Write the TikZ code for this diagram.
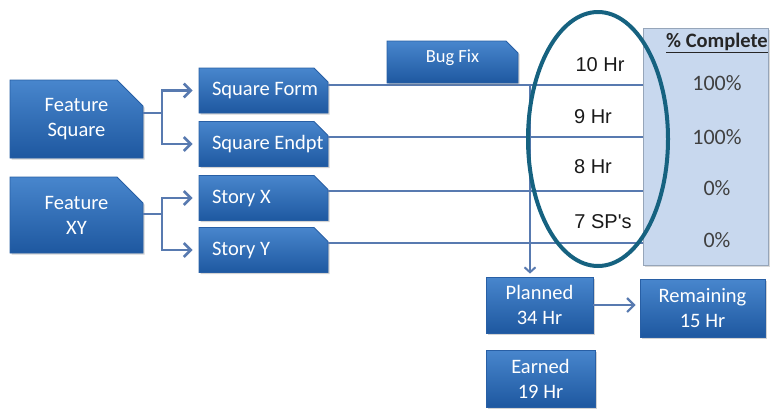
\documentclass[tikz,border=0pt]{standalone}
\usepackage{fontspec}
\setmainfont{Carlito}
\newfontfamily\arialf{Liberation Sans}
\usetikzlibrary{shapes.misc,shadows,arrows.meta,calc}
\definecolor{boxtop}{RGB}{72,134,205}
\definecolor{boxbot}{RGB}{30,88,160}
\definecolor{boxline}{RGB}{40,95,165}
\definecolor{conn}{RGB}{88,122,176}
\definecolor{ringc}{RGB}{22,98,128}
\definecolor{cplfill}{RGB}{200,216,238}
\definecolor{cplline}{RGB}{150,165,185}
\definecolor{pcttext}{RGB}{64,64,64}
\newcommand{\lefttext}[1]{\makebox[115pt][l]{\hspace{6pt}#1}}
\begin{document}
\begin{tikzpicture}[x=1pt,y=-1pt,
  bluebox/.style={rectangle, draw=boxline, line width=0.8pt, top color=boxtop, bottom color=boxbot,
    text=white, font=\fontsize{20.5}{25}\selectfont, inner sep=0pt,
    drop shadow={opacity=0.35, shadow xshift=1.5pt, shadow yshift=-1.5pt}},
  snipbox/.style={bluebox, chamfered rectangle, chamfered rectangle corners=north east,
    chamfered rectangle xsep=#1, chamfered rectangle ysep=#1},
  leftbox/.style={snipbox=7pt, minimum width=129, minimum height=45, inner xsep=0pt},
  arr/.style={draw=conn, line width=2.6pt, -{Straight Barb[length=7pt,width=14pt]}, shorten >=6pt},
  feed/.style={draw=conn, line width=2.6pt},
  hline/.style={draw=conn, line width=1.8pt},
  varr/.style={draw=conn, line width=2pt, -{Straight Barb[length=5pt,width=11pt]}, shorten >=3pt},
  hr/.style={font=\arialf\fontsize{20}{24}\selectfont, text=black!90},
  pct/.style={font=\fontsize{22}{26}\selectfont, text=pcttext},
  ring/.style={draw=ringc, line width=4pt}
]
\useasboundingbox (0,0) rectangle (774,410);

% complete box
\node[draw=cplline, fill=cplfill, line width=1pt, minimum width=125, minimum height=237,
  drop shadow={opacity=0.3, shadow xshift=2pt, shadow yshift=-2pt}] (cpl) at (705.5,146.5) {};

% left boxes
\node[snipbox=13pt, minimum width=133, minimum height=78, align=center] (fs) at (76.5,119) {Feature\\Square};
\node[snipbox=13pt, minimum width=133, minimum height=76, align=center] (fxy) at (76.5,215) {Feature\\XY};
\node[leftbox] (sf) at (263.5,90.5) {\lefttext{Square Form}};
\node[leftbox] (se) at (263.5,144) {\lefttext{Square Endpt}};
\node[leftbox] (sx) at (263.5,198) {\lefttext{Story X}};
\node[leftbox] (sy) at (263.5,250) {\lefttext{Story Y}};

% connectors left
\coordinate (j1) at (162,113);
\coordinate (j2) at (162,214);
\draw[feed] (fs.east |- j1) -- (j1);
\draw[arr] (j1) |- (sf.west);
\draw[arr] (j1) |- (se.west);
\draw[feed] (fxy.east |- j2) -- (j2);
\draw[arr] (j2) |- (sx.west);
\draw[arr] (j2) |- (sy.west);

% horizontal lines
\coordinate (h1) at ($(sf.east)+(0,-5.5)$);
\coordinate (h2) at ($(se.east)+(0,-7)$);
\coordinate (h3) at ($(sx.east)+(0,-7)$);
\coordinate (h4) at ($(sy.east)+(0,-7)$);
\draw[hline] (h1) -- (h1 -| cpl.west);
\draw[hline] (h2) -- (h2 -| cpl.west);
\draw[hline] (h3) -- (h3 -| cpl.west);
\draw[hline] (h4) -- (h4 -| cpl.west);

% bottom boxes
\node[bluebox, minimum width=107, minimum height=56, align=center] (pl) at (539.5,305) {Planned\\34 Hr};
\node[bluebox, minimum width=125, minimum height=58, align=center] (rem) at (702.5,308) {Remaining\\15 Hr};
\node[bluebox, minimum width=109, minimum height=57, align=center] (ear) at (540.5,378.5) {Earned\\19 Hr};

\coordinate (vt) at (530,85.5);
\draw[varr] (vt) -- (vt |- pl.north);
\draw[arr, line width=2.2pt, shorten >=4pt] (pl.east) -- (pl.east -| rem.west);

% bug fix
\node[snipbox=6pt, minimum width=131, minimum height=42, text depth=12pt,
  font=\fontsize{18.5}{22}\selectfont] (bug) at (452.5,62) {Bug Fix\hspace{12pt}};

% hour labels
\node[hr] (t1) at (600,65) {10 Hr};
\node[hr] (t2) at (593,117) {9 Hr};
\node[hr] (t3) at (593,167) {8 Hr};
\node[hr] (t4) at (603,222) {7 SP's};

% percent labels
\node[font=\bfseries\fontsize{20.5}{24}\selectfont, text=black!85] (ph) at (717,43) {\underline{\% Complete}};
\node[pct] (p1) at (717,83) {100\%};
\node[pct] (p2) at (717,137) {100\%};
\node[pct] (p3) at (717,188) {0\%};
\node[pct] (p4) at (717,240) {0\%};

% ring
\draw[ring] (598,139) ellipse [x radius=70, y radius=127];
\end{tikzpicture}
\end{document}
